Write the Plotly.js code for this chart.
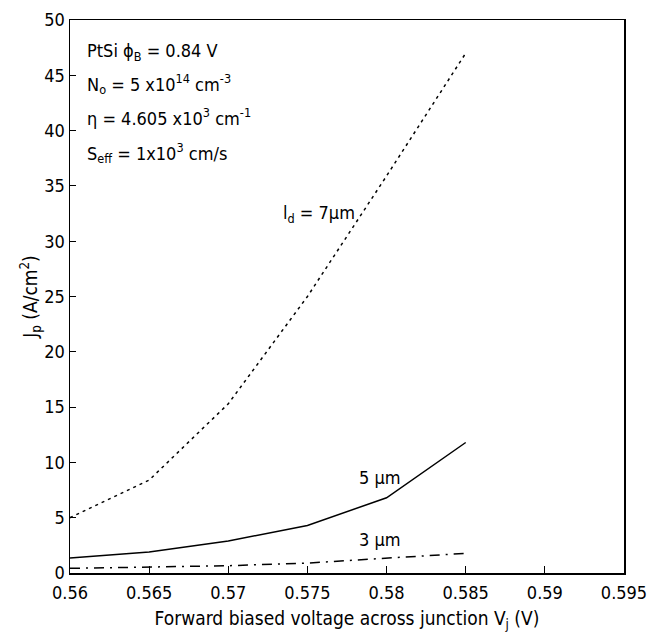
<!DOCTYPE html>
<html>
<head>
<meta charset="utf-8">
<script src="https://cdn.plot.ly/plotly-3.0.1.min.js"></script>
<style>html,body{margin:0;padding:0;background:#fff;}#chart{width:657px;height:632px;}</style>
</head>
<body>
<div id="chart"></div>
<script>
const voltage = [0.56, 0.565, 0.57, 0.575, 0.58, 0.585];
const jp7um = [5.0, 8.4, 15.3, 25.0, 35.9, 47.0];
const jp5um = [1.35, 1.9, 2.9, 4.3, 6.8, 11.8];
const jp3um = [0.42, 0.51, 0.66, 0.9, 1.35, 1.78];
const xTicks = [0.56, 0.565, 0.57, 0.575, 0.58, 0.585, 0.59, 0.595];
const xTickText = ['0.56', '0.565', '0.57', '0.575', '0.58', '0.585', '0.59', '0.595'];
const yTicks = [0, 5, 10, 15, 20, 25, 30, 35, 40, 45, 50];

const FONT = '"Liberation Sans Narrow", "DejaVu Sans Condensed", "Liberation Sans", Arial, sans-serif';

const traces = [
  {x: voltage, y: jp7um, mode: 'lines', line: {color: '#000', width: 1.5, dash: '3px,4px'}, name: '7um'},
  {x: voltage, y: jp5um, mode: 'lines', line: {color: '#000', width: 1.5}, name: '5um'},
  {x: voltage, y: jp3um, mode: 'lines', line: {color: '#000', width: 1.5, dash: '10px,6px,2px,6px'}, name: '3um'}
];

const annText = {font: {family: FONT, size: 18, color: '#000'}, showarrow: false, xanchor: 'left', yanchor: 'middle'};
const layout = {
  width: 657, height: 632,
  margin: {l: 70, r: 33, t: 20, b: 59},
  paper_bgcolor: '#fff', plot_bgcolor: '#fff',
  showlegend: false,
  font: {family: FONT, size: 18, color: '#000'},
  xaxis: {
    range: [0.56, 0.595], tickvals: xTicks, ticktext: xTickText,
    ticks: 'inside', ticklen: 7, tickwidth: 1, tickcolor: '#000',
    ticklabelstandoff: 3,
    showline: true, linecolor: '#000', linewidth: 1.5, mirror: true,
    showgrid: false, zeroline: false,
    tickfont: {family: FONT, size: 18, color: '#000'},
    title: {text: 'Forward biased voltage across junction V<sub>j</sub> (V)', font: {family: FONT, size: 19, color: '#000'}, standoff: 14}
  },
  yaxis: {
    range: [0, 50], tickvals: yTicks,
    ticks: 'inside', ticklen: 6, tickwidth: 1, tickcolor: '#000',
    showline: true, linecolor: '#000', linewidth: 1.5, mirror: true,
    showgrid: false, zeroline: false,
    tickfont: {family: FONT, size: 18, color: '#000'},
    title: {text: 'J<sub>p</sub> (A/cm<sup>2</sup>)', font: {family: FONT, size: 19, color: '#000'}, standoff: 1}
  },
  annotations: [
    Object.assign({x: 0.56092, y: 47.1, text: 'PtSi ϕ<sub>B</sub> = 0.84 V'}, annText),
    Object.assign({x: 0.56092, y: 44.2, text: 'N<sub>o</sub> = 5 x10<sup>14</sup> cm<sup>-3</sup>'}, annText),
    Object.assign({x: 0.56092, y: 41.2, text: 'η = 4.605 x10<sup>3</sup> cm<sup>-1</sup>'}, annText),
    Object.assign({x: 0.56092, y: 38.0, text: 'S<sub>eff</sub> = 1x10<sup>3</sup> cm/s'}, annText),
    Object.assign({x: 0.5733, y: 32.5, text: 'l<sub>d</sub> = 7µm'}, annText),
    Object.assign({x: 0.5781, y: 8.6, text: '5 µm'}, annText),
    Object.assign({x: 0.5781, y: 3.0, text: '3 µm'}, annText)
  ]
};

Plotly.newPlot('chart', traces, layout, {displayModeBar: false, staticPlot: true});
</script>
</body>
</html>
